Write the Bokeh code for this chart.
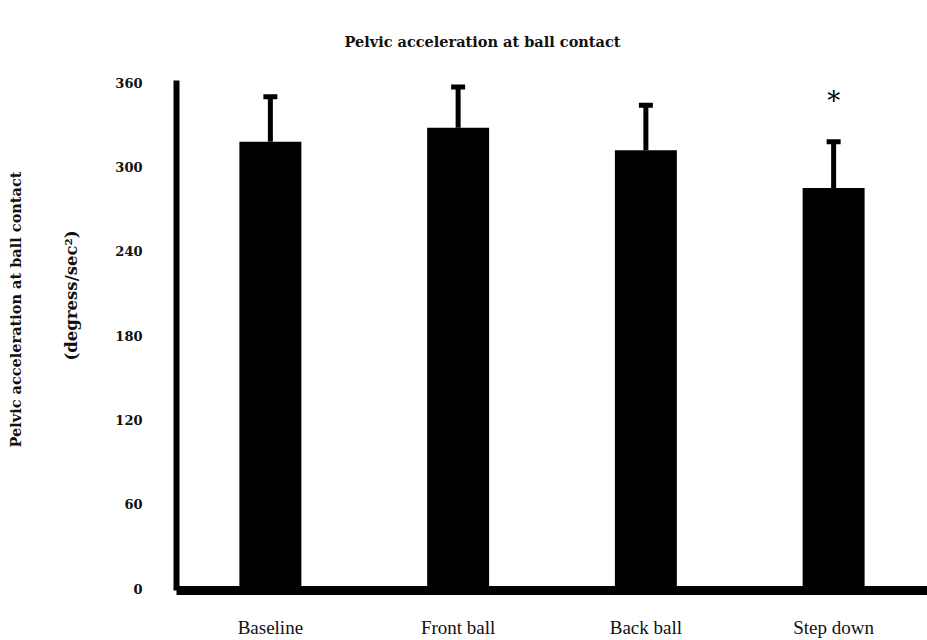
from bokeh.plotting import figure
from bokeh.models import Range1d, FactorRange, Whisker, TeeHead, ColumnDataSource, Title, FixedTicker
from bokeh.core.properties import value
from bokeh.embed import file_html
from bokeh.resources import INLINE

# Pelvic acceleration at ball contact, mean and SD per condition
conditions = ["Baseline", "Front ball", "Back ball", "Step down"]
means = [318, 328, 312, 285]
sds = [32, 29, 32, 33]
significant = [False, False, False, True]
y_ticks = [0, 60, 120, 180, 240, 300, 360]

SERIF = "DejaVu Serif"
TEXT_SERIF = "Liberation Serif"

upper = [m + s for m, s in zip(means, sds)]
src = ColumnDataSource(dict(cond=conditions, mean=means, upper=upper))

p = figure(
    width=927, height=640,
    x_range=FactorRange(*conditions),
    y_range=Range1d(-1.4, 361.6),
    output_backend="svg", toolbar_location=None,
    min_border_left=175, min_border_right=0, min_border_top=80, min_border_bottom=10,
)
p.title.text = "Pelvic acceleration at ball contact"
p.title.text_font = SERIF
p.title.text_font_size = "14.5px"
p.title.text_font_style = "bold"
p.title.text_color = "#111111"
p.title.align = "left"
p.title.vertical_align = "top"
p.title.offset = 168
p.title.standoff = 58

p.vbar(x="cond", top="mean", width=0.33, source=src, fill_color="black", line_color=None)

p.add_layout(Whisker(
    source=src, base="cond", lower="mean", upper="upper",
    line_color="black", line_width=5,
    upper_head=TeeHead(size=14, line_width=5, line_color="black"),
    lower_head=None,
))

# significance marker above the error bar
star_cond = [c for c, s in zip(conditions, significant) if s]
star_y = [u + 18 for u, s in zip(upper, significant) if s]
p.text(x=star_cond, y=star_y, text=["*"] * len(star_cond),
       text_align="center", text_baseline="bottom",
       text_font=value(SERIF), text_font_size="26px", text_color="black")

p.grid.visible = False
p.outline_line_color = None
p.background_fill_color = "white"

p.yaxis.ticker = FixedTicker(ticks=y_ticks)
p.yaxis.major_tick_line_color = None
p.yaxis.minor_tick_line_color = None
p.yaxis.axis_line_width = 6
p.yaxis.axis_line_color = "black"
p.yaxis.major_label_standoff = 28
p.yaxis.major_label_text_font = SERIF
p.yaxis.major_label_text_font_size = "13px"
p.yaxis.major_label_text_font_style = "bold"
p.yaxis.major_label_text_color = "#111111"

p.xaxis.major_tick_line_color = None
p.xaxis.axis_line_width = 9
p.xaxis.axis_line_color = "black"
p.xaxis.major_label_standoff = 20
p.xaxis.major_label_text_font = TEXT_SERIF
p.xaxis.major_label_text_font_size = "19px"
p.xaxis.major_label_text_color = "#111111"

# two-line y axis title, reading bottom to top
for txt, size, off, gap in [("(degress/sec\u00b2)", "16.5px", 230, 64),
                            ("Pelvic acceleration at ball contact", "14.5px", 143, 8)]:
    t = Title(text=txt, align="left", offset=off, text_font=SERIF, text_color="#111111",
              text_font_size=size, text_font_style="bold", standoff=gap)
    p.add_layout(t, "left")

open("out.html", "w").write(file_html(p, INLINE))
